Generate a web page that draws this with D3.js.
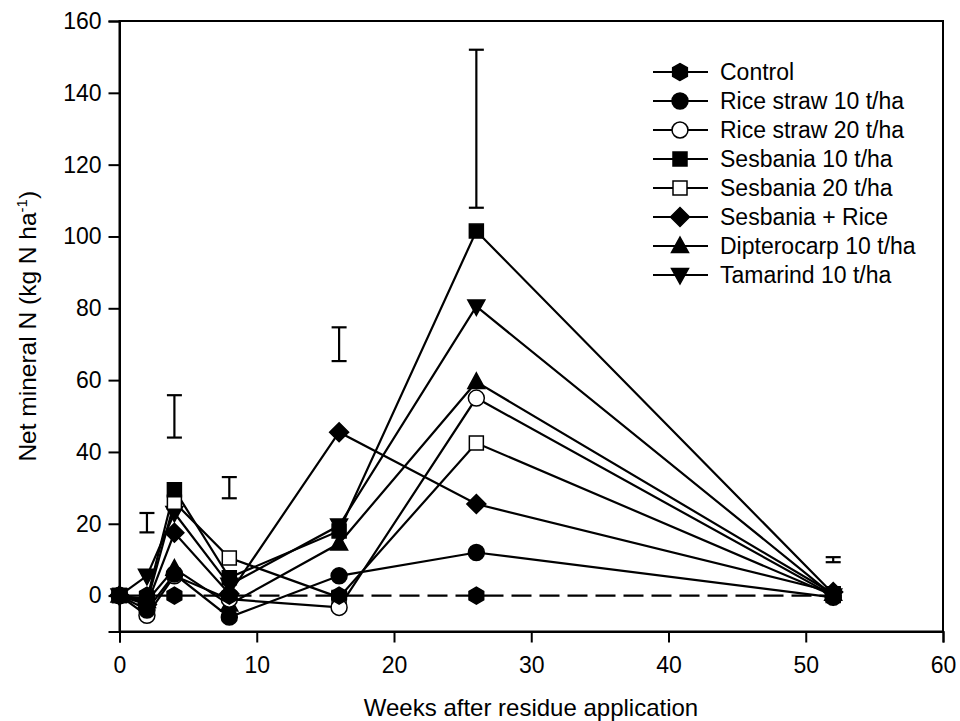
<!DOCTYPE html>
<html><head><meta charset="utf-8">
<script src="https://cdn.jsdelivr.net/npm/d3@7"></script>
<style>body{margin:0;background:#fff}text{font-family:"Liberation Sans",Arial,sans-serif}</style>
</head><body><svg id="c" width="960" height="721"></svg>
<script>
const weeks = [0, 2, 4, 8, 16, 26, 52];
const control      = [0, 0, 0, 0, 0, 0, 0];
const riceStraw10  = [0, -4, 6, -6, 5.5, 12, -0.5];
const riceStraw20  = [0, -5.5, 5.5, -1, -3.3, 55, 0];
const sesbania10   = [0, -1, 29.5, 5, 18, 101.5, 0.5];
const sesbania20   = [0, -2, 26, 10.5, -0.5, 42.5, 0];
const sesbaniaRice = [0, -2.5, 17.5, 0.5, 45.5, 25.5, 1];
const dipterocarp  = [0, -1.5, 7.5, -2.5, 14.5, 59.5, 0.5];
const tamarind     = [0, 5.5, 23, 3, 19.5, 80.5, 0];
const seriesNames = ["Control","Rice straw 10 t/ha","Rice straw 20 t/ha","Sesbania 10 t/ha","Sesbania 20 t/ha","Sesbania + Rice","Dipterocarp 10 t/ha","Tamarind 10 t/ha"];
const lsdWeeks = [2, 4, 8, 16, 26, 52];
const lsdLow   = [17.6, 44, 27.1, 65.3, 108, 9.3];
const lsdHigh  = [23, 55.8, 33, 74.7, 152, 10.7];
const xTicks = [0, 10, 20, 30, 40, 50, 60];
const yTicks = [0, 20, 40, 60, 80, 100, 120, 140, 160];

const series = [
  {name: seriesNames[0], v: control, sym: "hex", fill: "#000", dash: "20,8"},
  {name: seriesNames[1], v: riceStraw10, sym: "circle", fill: "#000"},
  {name: seriesNames[2], v: riceStraw20, sym: "circle", fill: "#fff"},
  {name: seriesNames[3], v: sesbania10, sym: "square", fill: "#000"},
  {name: seriesNames[4], v: sesbania20, sym: "square", fill: "#fff"},
  {name: seriesNames[5], v: sesbaniaRice, sym: "diamond", fill: "#000"},
  {name: seriesNames[6], v: dipterocarp, sym: "tri", fill: "#000"},
  {name: seriesNames[7], v: tamarind, sym: "tridown", fill: "#000"}
];

const svg = d3.select("#c");
const L = 119.5, R = 943, T = 21, B = 631.5;
const x = d3.scaleLinear().domain([0, 60]).range([L, R]);
const y = d3.scaleLinear().domain([-10, 160]).range([B, T]);

svg.append("rect").attr("x", L).attr("y", T).attr("width", R - L).attr("height", B - T)
  .attr("fill", "none").attr("stroke", "#000").attr("stroke-width", 2);

const xAxis = svg.append("g").attr("transform", `translate(0,${B})`)
  .call(d3.axisBottom(x).tickValues(xTicks).tickSize(11).tickPadding(14).tickFormat(d3.format("d")));
const yAxis = svg.append("g").attr("transform", `translate(${L},0)`)
  .call(d3.axisLeft(y).tickValues(yTicks).tickSize(11).tickPadding(7).tickFormat(d3.format("d")));
[xAxis, yAxis].forEach(g => {
  g.select(".domain").attr("stroke-width", 2);
  g.selectAll(".tick line").attr("stroke-width", 2);
  g.selectAll("text").attr("font-size", 23).attr("font-family", '"Liberation Sans",Arial,sans-serif').attr("fill", "#000");
});

svg.append("text").attr("x", 531).attr("y", 716).attr("text-anchor", "middle")
  .attr("font-size", 24).text("Weeks after residue application");
const yt = svg.append("text").attr("transform", `translate(36,${(T + B) / 2}) rotate(-90)`)
  .attr("text-anchor", "middle").attr("font-size", 24.5);
yt.append("tspan").text("Net mineral N (kg N ha");
yt.append("tspan").attr("font-size", 15).attr("dy", -9).text("-1");
yt.append("tspan").attr("dy", 9).text(")");

const cap = 7.5;
const eg = svg.append("g").attr("stroke", "#000").attr("stroke-width", 2.2);
lsdWeeks.forEach((w, i) => {
  const cx = x(w);
  eg.append("line").attr("x1", cx).attr("x2", cx).attr("y1", y(lsdLow[i])).attr("y2", y(lsdHigh[i]));
  eg.append("line").attr("x1", cx - cap).attr("x2", cx + cap).attr("y1", y(lsdLow[i])).attr("y2", y(lsdLow[i]));
  eg.append("line").attr("x1", cx - cap).attr("x2", cx + cap).attr("y1", y(lsdHigh[i])).attr("y2", y(lsdHigh[i]));
});

function symPath(sym) {
  switch (sym) {
    case "circle": return d3.symbol(d3.symbolCircle, 200)();
    case "square": return "M-7,-7H7V7H-7Z";
    case "diamond": return "M0,-9.5L9.5,0L0,9.5L-9.5,0Z";
    case "tri": return "M0,-9L8.5,6.5H-8.5Z";
    case "tridown": return "M0,9L8.5,-6.5H-8.5Z";
    case "hex": {
      const r = 8.5; let p = [];
      for (let k = 0; k < 6; k++) { const a = Math.PI / 2 + k * Math.PI / 3; p.push([r * Math.cos(a), r * Math.sin(a)]); }
      return "M" + p.map(q => q.join(",")).join("L") + "Z";
    }
  }
}

const line = d3.line().x(d => x(d[0])).y(d => y(d[1]));
const lg = svg.append("g");
series.forEach(s => {
  const pts = weeks.map((w, i) => [w, s.v[i]]);
  lg.append("path").attr("d", line(pts)).attr("fill", "none").attr("stroke", "#000")
    .attr("stroke-width", 2.2).attr("stroke-dasharray", s.dash || null);
});
series.slice().reverse().forEach(s => {
  weeks.forEach((w, i) => {
    svg.append("path").attr("d", symPath(s.sym))
      .attr("transform", `translate(${x(w)},${y(s.v[i])})`)
      .attr("fill", s.fill).attr("stroke", "#000").attr("stroke-width", 1.5);
  });
});

const leg = svg.append("g");
series.forEach((s, i) => {
  const yy = 72 + i * 29;
  leg.append("line").attr("x1", 653).attr("x2", 708).attr("y1", yy).attr("y2", yy)
    .attr("stroke", "#000").attr("stroke-width", 2);
  leg.append("path").attr("d", symPath(s.sym)).attr("transform", `translate(680,${yy})`)
    .attr("fill", s.fill).attr("stroke", "#000").attr("stroke-width", 1.5);
  leg.append("text").attr("x", 720).attr("y", yy + 8).attr("font-size", 23).text(s.name);
});
</script></body></html>
